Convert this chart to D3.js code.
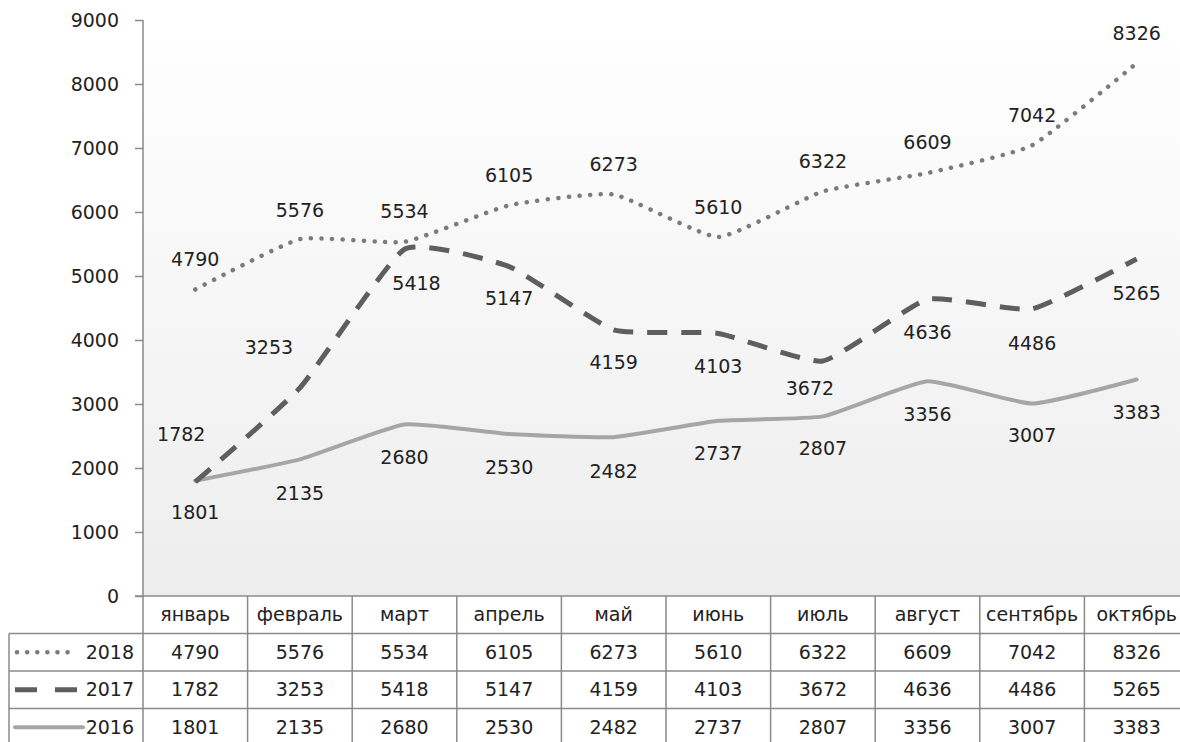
<!DOCTYPE html>
<html>
<head>
<meta charset="utf-8">
<script src="https://cdn.jsdelivr.net/npm/d3@7"></script>
<style>
body { margin: 0; background: #fff; overflow: hidden; }
text { font-family: "DejaVu Sans", Verdana, sans-serif; fill: #222; }
</style>
</head>
<body>
<script>
// donnees
var months = ["январь", "февраль", "март", "апрель", "май", "июнь", "июль", "август", "сентябрь", "октябрь"];
var years = ["2018", "2017", "2016"];
var values2018 = [4790, 5576, 5534, 6105, 6273, 5610, 6322, 6609, 7042, 8326];
var values2017 = [1782, 3253, 5418, 5147, 4159, 4103, 3672, 4636, 4486, 5265];
var values2016 = [1801, 2135, 2680, 2530, 2482, 2737, 2807, 3356, 3007, 3383];
var yTicks = [0, 1000, 2000, 3000, 4000, 5000, 6000, 7000, 8000, 9000];

// decalage des etiquettes par rapport au point (mise en page, pixels)
var labelDx = {
	"2018": [0, 0, 0, 0, 0, 0, 0, 0, 0, 0],
	"2017": [-14, -31, 12, 0, 0, 0, -13, 0, 0, 0],
	"2016": [0, 0, 0, 0, 0, 0, 0, 0, 0, 0]
};
var labelDy = {
	"2018": [-30, -29, -30, -30, -30, -30, -30, -31, -30, -30],
	"2017": [-48, -40, 34, 32, 33, 33, 27, 33, 34, 34],
	"2016": [32, 34, 33, 33, 34, 33, 32, 33, 32, 33]
};

function drawChart()
{
	var series = [
		{ name: "2018", values: values2018, color: "#7b7b7b", width: 4.5, dash: "0.1 10.5", cap: "round" },
		{ name: "2017", values: values2017, color: "#5e5e5e", width: 5, dash: "20 14", cap: "butt" },
		{ name: "2016", values: values2016, color: "#a6a6a6", width: 4, dash: null, cap: "round" }
	];

	var W = 1180, H = 742;
	var pLeft = 143, pRight = 1189, pTop = 20, pBottom = 596;
	var rowH = 37.5;
	var fs = "19px";

	var svg = d3.select("body").append("svg")
		.attr("width", W)
		.attr("height", H);

	//degrade du fond de la zone de trace
	var grad = svg.append("defs").append("linearGradient")
		.attr("id", "bg")
		.attr("x1", 0).attr("y1", 0).attr("x2", 0).attr("y2", 1);
	grad.append("stop").attr("offset", "0%").attr("stop-color", "#ffffff");
	grad.append("stop").attr("offset", "100%").attr("stop-color", "#ededed");

	var x = d3.scaleBand()
		.domain(months)
		.range([pLeft, pRight]);

	var y = d3.scaleLinear()
		.domain([0, 9000])
		.range([pBottom, pTop]);

	svg.append("rect")
		.attr("x", pLeft).attr("y", pTop)
		.attr("width", pRight - pLeft).attr("height", pBottom - pTop)
		.attr("fill", "url(#bg)");

	// axe vertical
	var yAxis = svg.append("g")
		.attr("transform", "translate(" + pLeft + ",0)")
		.call(d3.axisLeft(y).tickValues(yTicks).tickSize(8).tickPadding(16).tickFormat(d3.format("d")));
	yAxis.selectAll("path, line").attr("stroke", "#888").attr("stroke-width", 1.5);
	yAxis.select(".domain").attr("d", "M0," + pTop + "V" + H);
	yAxis.selectAll("text")
		.style("font-family", "'DejaVu Sans', Verdana, sans-serif")
		.style("font-size", fs)
		.attr("fill", "#222");

	// lignes lissees
	var cx = function(i) { return x(months[i]) + x.bandwidth() / 2; };
	var line = d3.line()
		.x(function(d, i) { return cx(i); })
		.y(function(d) { return y(d); })
		.curve(d3.curveCardinal.tension(0.55));

	series.slice().reverse().forEach(function(s) {
		svg.append("path")
			.datum(s.values)
			.attr("fill", "none")
			.attr("stroke", s.color)
			.attr("stroke-width", s.width)
			.attr("stroke-linecap", s.cap)
			.attr("stroke-linejoin", "round")
			.attr("stroke-dasharray", s.dash)
			.attr("d", line);
	});

	// etiquettes de donnees
	series.forEach(function(s) {
		svg.append("g").selectAll("text")
			.data(s.values)
			.enter().append("text")
			.attr("x", function(d, i) { return cx(i) + labelDx[s.name][i]; })
			.attr("y", function(d, i) { return y(d) + labelDy[s.name][i]; })
			.attr("dy", "0.35em")
			.attr("text-anchor", "middle")
			.style("font-size", fs)
			.text(function(d) { return d; });
	});

	// tableau de donnees
	var grid = svg.append("g").attr("stroke", "#8a8a8a").attr("stroke-width", 1.5);
	grid.append("line").attr("x1", pLeft - 8).attr("x2", pRight).attr("y1", pBottom).attr("y2", pBottom);
	for (var r = 1; r <= 3; r++) {
		grid.append("line").attr("x1", 9).attr("x2", pRight)
			.attr("y1", pBottom + r * rowH).attr("y2", pBottom + r * rowH);
	}
	grid.append("line").attr("x1", 9).attr("x2", 9).attr("y1", pBottom + rowH).attr("y2", H);
	months.slice(1).forEach(function(m) {
		grid.append("line")
			.attr("x1", x(m)).attr("x2", x(m))
			.attr("y1", pBottom).attr("y2", H);
	});

	svg.append("g").selectAll("text")
		.data(months)
		.enter().append("text")
		.attr("x", function(d) { return x(d) + x.bandwidth() / 2; })
		.attr("y", pBottom + rowH / 2)
		.attr("dy", "0.35em")
		.attr("text-anchor", "middle")
		.style("font-size", fs)
		.text(function(d) { return d; });

	series.forEach(function(s, r) {
		var cy = pBottom + (r + 1) * rowH + rowH / 2;
		var g = svg.append("g");
		g.append("line")
			.attr("x1", s.name === "2018" ? 17 : 15)
			.attr("x2", s.name === "2016" ? 83 : 77)
			.attr("y1", cy).attr("y2", cy)
			.attr("stroke", s.color)
			.attr("stroke-width", s.width)
			.attr("stroke-linecap", s.cap)
			.attr("stroke-dasharray", s.name === "2018" ? "0.1 10" : (s.name === "2017" ? "22 18" : null));
		g.append("text")
			.attr("x", 134).attr("y", cy).attr("dy", "0.35em")
			.attr("text-anchor", "end")
			.style("font-size", fs)
			.text(s.name);
		g.selectAll("text.v")
			.data(s.values)
			.enter().append("text")
			.attr("class", "v")
			.attr("x", function(d, i) { return cx(i); })
			.attr("y", cy).attr("dy", "0.35em")
			.attr("text-anchor", "middle")
			.style("font-size", fs)
			.text(function(d) { return d; });
	});
}

drawChart();
</script>
</body>
</html>
